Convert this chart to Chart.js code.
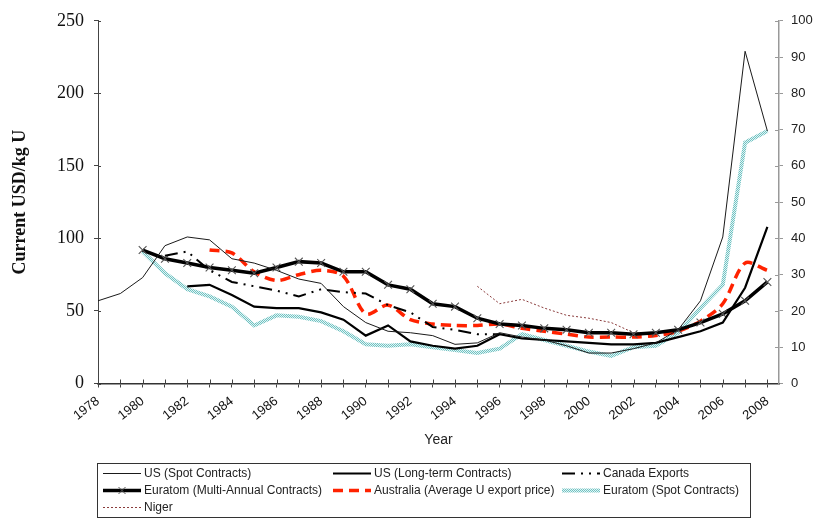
<!DOCTYPE html>
<html>
<head>
<meta charset="utf-8">
<script src="https://cdn.jsdelivr.net/npm/chart.js@4.4.0/dist/chart.umd.min.js"></script>
<style>
  body { margin: 0; background: #fff; }
  #wrap { width: 819px; height: 521px; position: relative; }
</style>
</head>
<body>
<div id="wrap"><canvas id="priceChart"></canvas></div>
<script>
// years on the x axis
const years = [1978, 1979, 1980, 1981, 1982, 1983, 1984, 1985, 1986, 1987,
  1988, 1989, 1990, 1991, 1992, 1993, 1994, 1995, 1996, 1997,
  1998, 1999, 2000, 2001, 2002, 2003, 2004, 2005, 2006, 2007, 2008];

// values, current USD/kg U
const usSpot = [57, 62, 73, 95, 101, 99, 86, 83, 78, 72,
  69, 53, 42, 36, 35, 33, 27, 28, 35, 32,
  30, 26, 21, 21, 24, 28, 37, 57, 101, 229, 174];
const usLongTerm = [null, null, null, null, 67, 68, 61, 53, 52, 52,
  49, 44, 33, 40, 29, 26, 24, 26, 34, 31,
  30, 29, 28, 27, 27, 28, 32, 36, 42, 66, 108];
const canadaExports = [null, null, null, 88, 91, 78, 70, 67, 64, 60,
  65, 63, 62, 54, 49, 39, 37, 34, 34, null,
  null, null, null, null, null, null, null, null, null, null, null];
const euratomMulti = [null, null, 92, 86, 83, 80, 78, 76, 80, 84,
  83, 77, 77, 68, 65, 55, 53, 45, 41, 40,
  38, 37, 35, 35, 34, 35, 37, 42, 48, 57, 70];
const australia = [null, null, null, null, null, 92, 90, 77, 71, 75,
  78, 74, 48, 54, 44, 41, 40, 40, 41, 38,
  36, 34, 32, 32, 32, 33, 36, 43, 55, 83, 78];
const euratomSpot = [null, null, 91, 76, 65, 60, 53, 40, 47, 46,
  43, 36, 27, 26, 27, 25, 23, 21, 24, 34,
  30, 26, 22, 19, 25, 26, 35, 52, 68, 166, 174];
const niger = [null, null, null, null, null, null, null, null, null, null,
  null, null, null, null, null, null, null, 67, 55, 58,
  52, 47, 45, 42, 35, 34, null, null, null, null, null];

const leftTicks = [0, 50, 100, 150, 200, 250];

// pale cyan dotted band for the Euratom spot series
function dotPattern() {
  const c = document.createElement('canvas');
  c.width = 2; c.height = 2;
  const g = c.getContext('2d');
  g.fillStyle = '#e2f4f4';
  g.fillRect(0, 0, 2, 2);
  g.fillStyle = '#70c2c2';
  g.fillRect(0, 0, 1, 1);
  g.fillRect(1, 1, 1, 1);
  return g.createPattern(c, 'repeat');
}
const cyanBand = dotPattern();

const sansFont = "'Liberation Sans', Arial, sans-serif";
const narrowFont = "'Liberation Sans Narrow', 'Liberation Sans', Arial, sans-serif";
const serifFont = "'Liberation Serif', 'Times New Roman', serif";

// tick marks that cross the axis lines
const innerTicks = {
  id: 'innerTicks',
  afterDraw(chart) {
    const {ctx, chartArea, scales} = chart;
    ctx.save();
    ctx.lineWidth = 1;
    ctx.strokeStyle = '#444';
    ctx.beginPath();
    scales.x.ticks.forEach(t => {
      const px = Math.round(scales.x.getPixelForValue(t.value)) + 0.5;
      ctx.moveTo(px, chartArea.bottom);
      ctx.lineTo(px, chartArea.bottom - 4);
    });
    scales.y.ticks.forEach(t => {
      const py = Math.round(scales.y.getPixelForValue(t.value)) + 0.5;
      ctx.moveTo(chartArea.left, py);
      ctx.lineTo(chartArea.left + 3, py);
    });
    ctx.stroke();
    ctx.strokeStyle = '#999';
    ctx.beginPath();
    scales.y2.ticks.forEach(t => {
      const py = Math.round(scales.y2.getPixelForValue(t.value)) + 0.5;
      ctx.moveTo(chartArea.right, py);
      ctx.lineTo(chartArea.right - 4, py);
    });
    ctx.stroke();
    ctx.restore();
  }
};

// boxed legend below the chart, three entries a row
const boxLegend = {
  id: 'boxLegend',
  afterDraw(chart) {
    const ctx = chart.ctx;
    const cols = [103, 333, 562];
    const rowY = [473, 490, 507];
    ctx.save();
    ctx.strokeStyle = '#333';
    ctx.lineWidth = 1;
    ctx.strokeRect(97.5, 463.5, 653, 54);
    ctx.font = '12px ' + sansFont;
    ctx.textBaseline = 'middle';
    let prevEnd = 0;
    chart.data.datasets.forEach((ds, i) => {
      const col = i % 3, row = Math.floor(i / 3);
      if (col === 0) prevEnd = 0;
      const y = rowY[row] + 0.5;
      let x1 = cols[col];
      const x2 = cols[col] + 38;
      if (prevEnd + 3 > x1) x1 = Math.min(prevEnd + 3, x2 - 12);
      ctx.save();
      ctx.strokeStyle = ds.borderColor;
      ctx.lineWidth = ds.borderWidth;
      ctx.setLineDash(ds.borderDash || []);
      ctx.beginPath();
      ctx.moveTo(x1, y);
      ctx.lineTo(x2, y);
      ctx.stroke();
      if (ds.pointRadius > 0) {
        const mx = (x1 + x2) / 2, r = 3.5;
        ctx.setLineDash([]);
        ctx.lineWidth = 1;
        ctx.strokeStyle = ds.pointBorderColor;
        ctx.beginPath();
        ctx.moveTo(mx - r, y - r); ctx.lineTo(mx + r, y + r);
        ctx.moveTo(mx - r, y + r); ctx.lineTo(mx + r, y - r);
        ctx.stroke();
      }
      ctx.restore();
      ctx.fillStyle = '#222';
      ctx.fillText(ds.label, x2 + 3, y);
      prevEnd = x2 + 3 + ctx.measureText(ds.label).width;
    });
    ctx.restore();
  }
};

const ctx = document.getElementById('priceChart');
new Chart(ctx, {
  type: 'line',
  data: {
    labels: years,
    datasets: [
      {
        label: 'US (Spot Contracts)', data: usSpot,
        borderColor: '#1a1a1a', borderWidth: 1, pointRadius: 0
      },
      {
        label: 'US (Long-term Contracts)', data: usLongTerm,
        borderColor: '#000', borderWidth: 2.2, pointRadius: 0
      },
      {
        label: 'Canada Exports', data: canadaExports,
        borderColor: '#000', borderWidth: 2, borderDash: [13, 6, 2, 6, 2, 6], pointRadius: 0
      },
      {
        label: 'Euratom (Multi-Annual Contracts)', data: euratomMulti,
        borderColor: '#000', borderWidth: 3.5, pointStyle: 'crossRot',
        pointRadius: 5.5, pointBorderColor: '#555', pointBorderWidth: 1.1
      },
      {
        label: 'Australia (Average U export price)', data: australia,
        borderColor: '#ff2200', borderWidth: 3.5, borderDash: [10, 6],
        pointRadius: 0, tension: 0.3
      },
      {
        label: 'Euratom (Spot Contracts)', data: euratomSpot,
        borderColor: cyanBand, borderWidth: 4, pointRadius: 0
      },
      {
        label: 'Niger', data: niger,
        borderColor: '#8a3b3b', borderWidth: 1, borderDash: [2, 2], pointRadius: 0
      }
    ]
  },
  options: {
    responsive: true,
    maintainAspectRatio: false,
    animation: false,
    events: [],
    layout: { padding: { top: 15, bottom: 71, left: 0, right: 0 } },
    plugins: {
      legend: { display: false },
      tooltip: { enabled: false }
    },
    scales: {
      x: {
        type: 'linear',
        min: 1978,
        max: 2008.52,
        afterFit: s => { s.height = 66.5; },
        grid: { display: true, drawOnChartArea: false, tickLength: 4, color: '#444' },
        border: { color: '#333', width: 1.5 },
        ticks: {
          stepSize: 1,
          includeBounds: false,
          autoSkip: false,
          minRotation: 38,
          maxRotation: 38,
          padding: 6,
          color: '#111',
          font: { family: narrowFont, size: 13 },
          callback: v => (v % 2 === 0 ? String(v) : '')
        },
        title: {
          display: true, text: 'Year', color: '#222',
          font: { family: sansFont, size: 14 },
          padding: { top: 0, bottom: 1 }
        }
      },
      y: {
        position: 'left',
        min: 0, max: 250,
        afterFit: s => { s.width = 98; },
        afterBuildTicks: s => { s.ticks = leftTicks.map(v => ({ value: v })); },
        grid: { display: true, drawOnChartArea: false, tickLength: 4, color: '#444' },
        border: { color: '#444', width: 1 },
        ticks: {
          padding: 10, color: '#111',
          font: { family: serifFont, size: 18 }
        },
        title: {
          display: true, text: 'Current USD/kg U', color: '#111',
          font: { family: serifFont, size: 18, weight: 'bold' },
          padding: { top: 10, bottom: 0 }
        }
      },
      y2: {
        position: 'right',
        min: 0, max: 100,
        afterFit: s => { s.width = 40; },
        grid: { display: true, drawOnChartArea: false, tickLength: 4, color: '#999' },
        border: { color: '#999', width: 1.5 },
        ticks: {
          stepSize: 10, padding: 8, color: '#222',
          font: { family: sansFont, size: 13 }
        }
      }
    }
  },
  plugins: [innerTicks, boxLegend]
});
</script>
</body>
</html>
